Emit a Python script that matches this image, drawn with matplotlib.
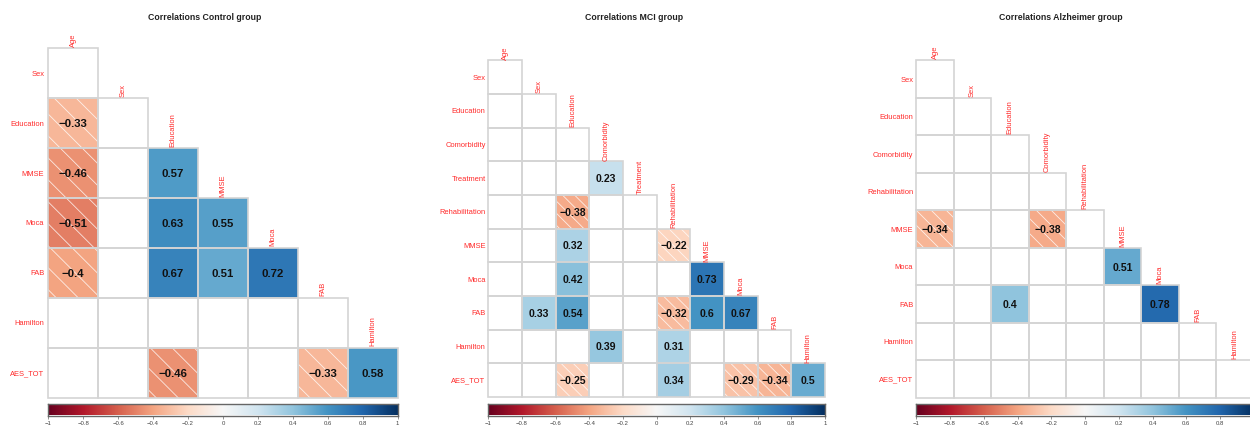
import numpy as np
import matplotlib
matplotlib.use("Agg")
import matplotlib.pyplot as plt
from matplotlib.patches import Rectangle

plt.rcParams["font.family"] = ["Liberation Sans", "DejaVu Sans"]

# ---- data -------------------------------------------------------------
control_vars = ["Age", "Sex", "Education", "MMSE", "Moca", "FAB", "Hamilton", "AES_TOT"]
control_pairs = [
    ("Education", "Age", -0.33),
    ("MMSE", "Age", -0.46), ("MMSE", "Education", 0.57),
    ("Moca", "Age", -0.51), ("Moca", "Education", 0.63), ("Moca", "MMSE", 0.55),
    ("FAB", "Age", -0.40), ("FAB", "Education", 0.67), ("FAB", "MMSE", 0.51),
    ("FAB", "Moca", 0.72),
    ("AES_TOT", "Education", -0.46), ("AES_TOT", "FAB", -0.33),
    ("AES_TOT", "Hamilton", 0.58),
]

mci_vars = ["Age", "Sex", "Education", "Comorbidity", "Treatment", "Rehabilitation",
            "MMSE", "Moca", "FAB", "Hamilton", "AES_TOT"]
mci_pairs = [
    ("Treatment", "Comorbidity", 0.23),
    ("Rehabilitation", "Education", -0.38),
    ("MMSE", "Education", 0.32), ("MMSE", "Rehabilitation", -0.22),
    ("Moca", "Education", 0.42), ("Moca", "MMSE", 0.73),
    ("FAB", "Sex", 0.33), ("FAB", "Education", 0.54), ("FAB", "Rehabilitation", -0.32),
    ("FAB", "MMSE", 0.60), ("FAB", "Moca", 0.67),
    ("Hamilton", "Comorbidity", 0.39), ("Hamilton", "Rehabilitation", 0.31),
    ("AES_TOT", "Education", -0.25), ("AES_TOT", "Rehabilitation", 0.34),
    ("AES_TOT", "Moca", -0.29), ("AES_TOT", "FAB", -0.34), ("AES_TOT", "Hamilton", 0.50),
]

ad_vars = ["Age", "Sex", "Education", "Comorbidity", "Rehabilitation",
           "MMSE", "Moca", "FAB", "Hamilton", "AES_TOT"]
ad_pairs = [
    ("MMSE", "Age", -0.34), ("MMSE", "Comorbidity", -0.38),
    ("Moca", "MMSE", 0.51),
    ("FAB", "Education", 0.40), ("FAB", "Moca", 0.78),
]

titles = ["Correlations Control group", "Correlations MCI group",
          "Correlations Alzheimer group"]
cbar_ticks = [-1, -0.8, -0.6, -0.4, -0.2, 0, 0.2, 0.4, 0.6, 0.8, 1]

# ---- drawing ----------------------------------------------------------
W, H = 1250, 427
fig = plt.figure(figsize=(W / 100, H / 100), dpi=100)
cmap = plt.get_cmap("RdBu")
GRID = "#d4d4d4"
LABEL = "#ff2a2a"


def px_axes(x, y, w, h):
    return fig.add_axes([x / W, 1 - (y + h) / H, w / W, h / H])


def fmt(v):
    s = f"{v:.2f}".rstrip("0").rstrip(".")
    return s.replace("-", "\u2212")


def corr_panel(variables, pairs, left, top, cell, title, title_x,
               hatch_step, val_size, lab_size):
    n = len(variables) - 1
    ax = px_axes(left, top, cell * n, cell * n)
    ax.set_xlim(0, n)
    ax.set_ylim(n, 0)
    ax.axis("off")
    rows = variables[1:]
    cols = variables[:-1]
    vals = {(r, c): v for r, c, v in pairs}

    for i, r in enumerate(rows):
        for j, c in enumerate(cols):
            if j > i:
                continue
            v = vals.get((r, c))
            face = cmap((v + 1) / 2) if v is not None else "white"
            ax.add_patch(Rectangle((j, i), 1, 1, facecolor=face,
                                   edgecolor="none", zorder=1))
            if v is None:
                continue
            if v < 0:
                # white diagonal hatching on negative cells
                clip = Rectangle((j, i), 1, 1, transform=ax.transData,
                                 facecolor="none", edgecolor="none")
                ax.add_patch(clip)
                lo = np.ceil((j - i - 1) / hatch_step)
                hi = np.floor((j - i + 1) / hatch_step)
                for k in np.arange(lo, hi + 1):
                    d = k * hatch_step
                    ln, = ax.plot([i - 1 + d, i + 2 + d], [i - 1, i + 2],
                                  color="white", lw=0.6, alpha=0.8, zorder=2)
                    ln.set_clip_path(clip)
            ax.text(j + 0.5, i + 0.5, fmt(v), ha="center", va="center",
                    fontsize=val_size, fontweight="bold", color="#111111",
                    zorder=4)

    # cell borders
    for i in range(n):
        for j in range(i + 1):
            ax.add_patch(Rectangle((j, i), 1, 1, facecolor="none",
                                   edgecolor=GRID, lw=1.2, zorder=3,
                                   clip_on=False))

    # variable labels
    for i, r in enumerate(rows):
        ax.text(-0.08, i + 0.5, r, ha="right", va="center", fontsize=lab_size,
                color=LABEL, clip_on=False)
    for j, c in enumerate(cols):
        ax.text(j + 0.5, j - 0.05, c, ha="center", va="bottom", rotation=90,
                fontsize=lab_size, color=LABEL, clip_on=False)

    fig.text(title_x / W, 1 - 17 / H, title, ha="center", va="center",
             fontsize=6.3, fontweight="bold", color="#222222")

    # colour bar
    width = cell * n
    cax = px_axes(left, 404.5, width, 12)
    grad = np.linspace(-1, 1, 512).reshape(1, -1)
    cax.imshow(grad, aspect="auto", cmap=cmap, vmin=-1, vmax=1,
               extent=(-1, 1, 0, 1))
    cax.set_xlim(-1, 1)
    cax.set_yticks([])
    # only label ticks that land inside the figure
    ticks = [t for t in cbar_ticks if left + (t + 1) / 2 * width <= W - 4]
    cax.set_xticks(ticks)
    cax.set_xticklabels([fmt(t) for t in ticks], fontsize=4.3,
                        color="#444444")
    cax.tick_params(axis="x", length=2, width=0.5, pad=1.5, color="#666666")
    for s in cax.spines.values():
        s.set_color("#666666")
        s.set_linewidth(1.0)


corr_panel(control_vars, control_pairs, 48.3, 49.3, 49.9, titles[0], 205,
           0.44, 8.2, 5.4)
corr_panel(mci_vars, mci_pairs, 488.3, 61.3, 33.67, titles[1], 634.5,
           0.36, 7.6, 5.4)
corr_panel(ad_vars, ad_pairs, 916.3, 61.3, 37.5, titles[2], 1061,
           0.40, 7.6, 5.4)

fig.savefig("out.png", dpi=100, facecolor="white")
